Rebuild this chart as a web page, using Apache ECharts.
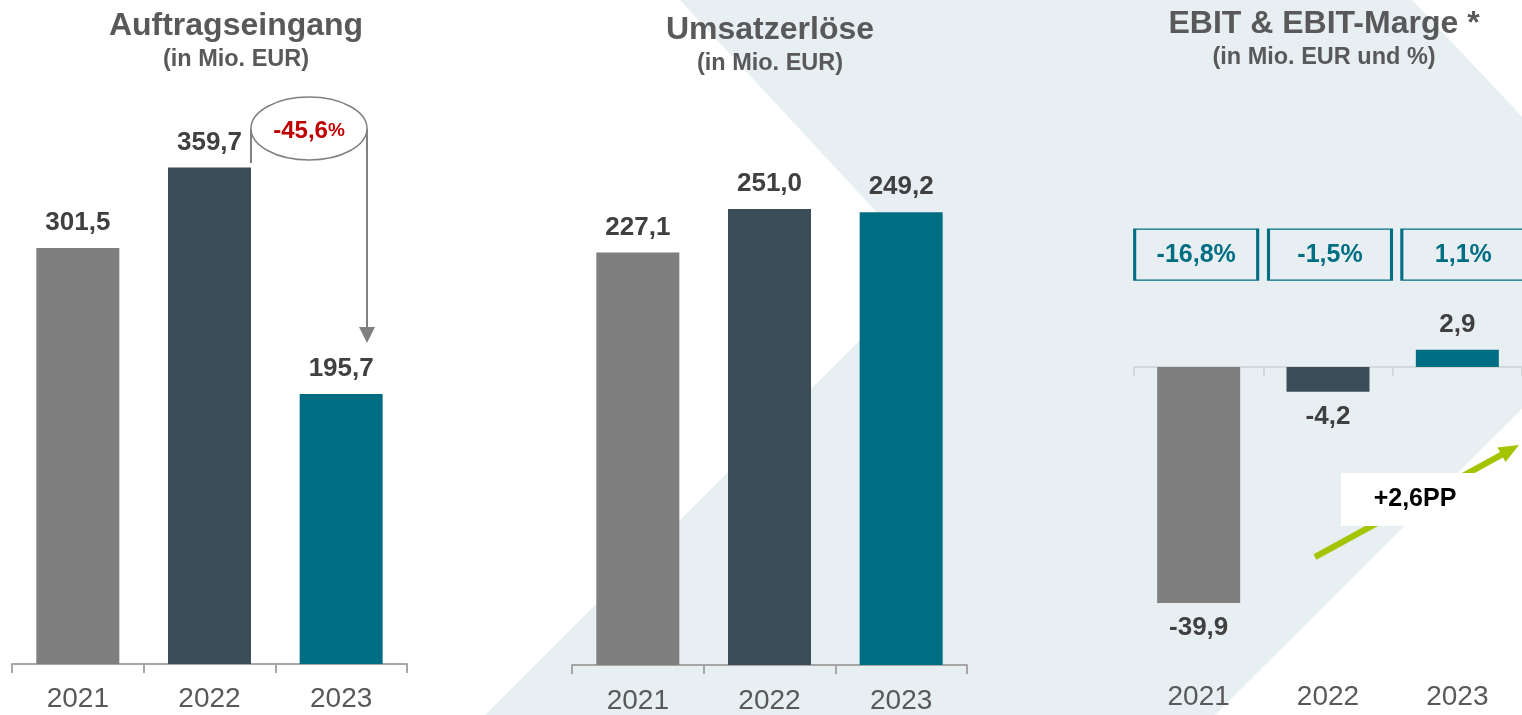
<!DOCTYPE html>
<html>
<head>
<meta charset="utf-8">
<script src="https://cdn.jsdelivr.net/npm/echarts@6/dist/echarts.min.js"></script>
<style>
  html, body { margin: 0; padding: 0; background: #ffffff; }
  #chart { width: 1522px; height: 715px; }
</style>
</head>
<body>
<div id="chart"></div>
<script>
// ---- data ----
const years = ['2021', '2022', '2023'];
const orderIntake = [301.5, 359.7, 195.7];     // Auftragseingang, Mio. EUR
const revenue = [227.1, 251.0, 249.2];         // Umsatzerlöse, Mio. EUR
const ebit = [-39.9, -4.2, 2.9];               // EBIT, Mio. EUR
const ebitMargin = [-16.8, -1.5, 1.1];         // EBIT-Marge, %
const barColors = ['#7f7f7f', '#3b4d57', '#006e82'];
const panelTitles = ['Auftragseingang', 'Umsatzerlöse', 'EBIT & EBIT-Marge *'];
const panelSubtitles = ['(in Mio. EUR)', '(in Mio. EUR)', '(in Mio. EUR und %)'];

// ---- helpers ----
const FONT = '"Liberation Sans", Arial, "Helvetica Neue", sans-serif';
const de = (v) => v.toFixed(1).replace('.', ',');
const orderChange = (orderIntake[2] / orderIntake[1] - 1) * 100;
const marginChange = ebitMargin[2] - ebitMargin[1];
const marginBoxLevel = 19;
const marginBoxShift = [-2.5, 2, 6];

const chart = echarts.init(document.getElementById('chart'), null, { renderer: 'canvas' });

const valueLabel = {
  show: true, position: 'top', distance: 12,
  fontFamily: FONT, fontSize: 26, fontWeight: 'bold', color: '#404040',
  formatter: (p) => de(p.value)
};
const colorByIndex = { color: (p) => barColors[p.dataIndex] };

function catAxis(gridIndex, lineColor, extra) {
  return Object.assign({
    type: 'category', gridIndex: gridIndex, data: years,
    axisLine: { show: true, lineStyle: { color: lineColor, width: 2 } },
    axisTick: { show: true, length: 9, lineStyle: { color: lineColor, width: 2 } },
    axisLabel: { margin: 20, fontFamily: FONT, fontSize: 28, color: '#595959' },
    splitLine: { show: false }
  }, extra || {});
}

const titleCenters = [236, 770, 1324];
const titleTops = [10, 14, 8];

const option = {
  animation: false,
  backgroundColor: '#ffffff',
  title: panelTitles.map((t, i) => ({
    text: t, subtext: panelSubtitles[i],
    left: titleCenters[i], top: titleTops[i], textAlign: 'center',
    padding: 0, itemGap: 6,
    textStyle: { fontFamily: FONT, fontSize: 32, fontWeight: 'bold', color: '#595959' },
    subtextStyle: { fontFamily: FONT, fontSize: 23.5, fontWeight: 'bold', color: '#595959' }
  })),
  grid: [
    { left: 12, width: 395, top: 112, height: 552 },
    { left: 572, width: 395, top: 120, height: 549 },
    { left: 1134, width: 396, top: 248.7, height: 414 }
  ],
  xAxis: [
    catAxis(0, '#a6a6a6', {
      axisLabel: { margin: 21, fontFamily: FONT, fontSize: 28, color: '#595959' }
    }),
    catAxis(1, '#a6a6a6', {
      axisLabel: { margin: 22, fontFamily: FONT, fontSize: 28, color: '#595959' }
    }),
    catAxis(2, '#d3d8db', {
      axisLine: { show: true, onZero: true, lineStyle: { color: '#d3d8db', width: 2 } },
      axisLabel: { show: false }
    }),
    catAxis(2, '#d3d8db', {
      position: 'bottom',
      axisLine: { show: false, onZero: false },
      axisTick: { show: false },
      axisLabel: { margin: 21, fontFamily: FONT, fontSize: 28, color: '#595959' }
    })
  ],
  yAxis: [
    { type: 'value', gridIndex: 0, min: 0, max: 400, show: false },
    { type: 'value', gridIndex: 1, min: 0, max: 300, show: false },
    { type: 'value', gridIndex: 2, min: -50, max: 20, show: false }
  ],
  series: [
    {
      type: 'bar', xAxisIndex: 0, yAxisIndex: 0, data: orderIntake, barWidth: 83,
      itemStyle: colorByIndex, label: valueLabel, silent: true
    },
    {
      type: 'bar', xAxisIndex: 1, yAxisIndex: 1, data: revenue, barWidth: 83,
      itemStyle: colorByIndex, label: valueLabel, silent: true
    },
    {
      type: 'bar', xAxisIndex: 2, yAxisIndex: 2, barWidth: 83,
      data: ebit.map(v => ({ value: v, label: { position: v >= 0 ? 'top' : 'bottom' } })),
      itemStyle: colorByIndex, label: valueLabel, silent: true
    },
    {
      type: 'scatter', xAxisIndex: 2, yAxisIndex: 2, silent: true,
      data: ebitMargin.map((m, i) => ({ value: [i, marginBoxLevel], symbolOffset: [marginBoxShift[i], 0] })),
      symbol: 'rect', symbolSize: [123, 51],
      itemStyle: { color: 'rgba(255,255,255,0)', borderColor: '#006e82', borderWidth: 2, opacity: 1 },
      label: {
        show: true, position: 'inside',
        fontFamily: FONT, fontSize: 25, fontWeight: 'bold', color: '#006e82',
        formatter: (p) => de(ebitMargin[p.dataIndex]) + '%'
      },
      z: 5
    }
  ],
  graphic: [
    // background chevron band
    {
      type: 'polygon', z: -10, silent: true,
      shape: { points: [[680, 0], [1412, 0], [1664, 267], [1215, 715], [485, 715], [930, 270]] },
      style: { fill: '#e7eff2' }
    },
    // -45,6% annotation
    {
      type: 'line', z: 50, silent: true,
      shape: { x1: 251, y1: 128.5, x2: 251, y2: 163 },
      style: { stroke: '#808080', lineWidth: 2 }
    },
    {
      type: 'line', z: 50, silent: true,
      shape: { x1: 367, y1: 128.5, x2: 367, y2: 330 },
      style: { stroke: '#808080', lineWidth: 2 }
    },
    {
      type: 'polygon', z: 50, silent: true,
      shape: { points: [[359, 327], [375, 327], [367, 343]] },
      style: { fill: '#808080' }
    },
    {
      type: 'ellipse', z: 51, silent: true,
      shape: { cx: 309, cy: 128.5, rx: 58, ry: 31.5 },
      style: { fill: '#ffffff', stroke: '#808080', lineWidth: 1.5 }
    },
    {
      type: 'text', z: 52, silent: true, x: 309, y: 131,
      style: {
        text: '{a|' + de(orderChange) + '}{b|%}',
        align: 'center', verticalAlign: 'middle',
        textAlign: 'center', textVerticalAlign: 'middle',
        rich: {
          a: { fontFamily: FONT, fontSize: 24, fontWeight: 'bold', color: '#c00000', fill: '#c00000' },
          b: { fontFamily: FONT, fontSize: 19, fontWeight: 'bold', color: '#c00000', fill: '#c00000' }
        }
      }
    },
    // +2,6PP arrow
    {
      type: 'line', z: 50, silent: true,
      shape: { x1: 1315, y1: 557, x2: 1502, y2: 454.5 },
      style: { stroke: '#a5c400', lineWidth: 6 }
    },
    {
      type: 'polygon', z: 50, silent: true,
      shape: { points: [[1519, 445], [1497.5, 447.5], [1505.5, 462]] },
      style: { fill: '#a5c400' }
    },
    {
      type: 'rect', z: 51, silent: true,
      shape: { x: 1341, y: 473, width: 149, height: 53 },
      style: { fill: '#ffffff' }
    },
    {
      type: 'text', z: 52, silent: true, x: 1415, y: 499,
      style: {
        text: '+' + de(marginChange) + 'PP',
        align: 'center', verticalAlign: 'middle',
        textAlign: 'center', textVerticalAlign: 'middle',
        font: 'bold 25px ' + FONT, fill: '#000000'
      }
    }
  ]
};

chart.setOption(option);
</script>
</body>
</html>
